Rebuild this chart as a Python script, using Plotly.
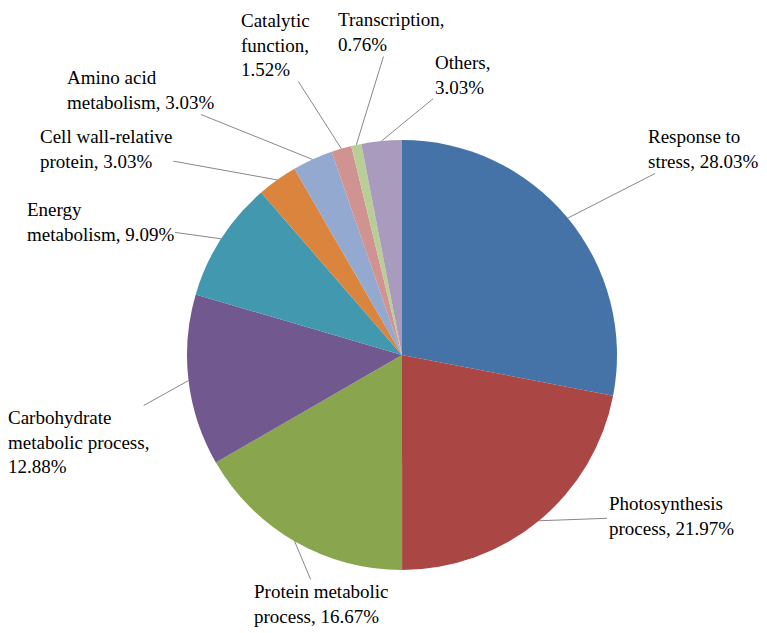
import math
import plotly.graph_objects as go

# categories and shares (%), clockwise from 12 o'clock
categories = ["Response to<br>stress", "Photosynthesis<br>process", "Protein metabolic<br>process",
              "Carbohydrate<br>metabolic process,<br>", "Energy<br>metabolism",
              "Cell wall-relative<br>protein", "Amino acid<br>metabolism",
              "Catalytic<br>function,<br>", "Transcription,<br>", "Others,<br>"]
values = [28.03, 21.97, 16.67, 12.88, 9.09, 3.03, 3.03, 1.52, 0.76, 3.03]

colors = ["#4572A7", "#AA4643", "#89A54E", "#71588F", "#4198AF",
          "#DB843D", "#93A9CF", "#D19392", "#B9CD96", "#A99BBD"]

W, H = 767, 633
OFF = 8  # page body margin
cx, cy, r = 402 - OFF, 355 - OFF, 215  # pie centre / radius in pixels

# where each label's text box is centred (pixels from top-left of the window)
label_pos = [(703, 149), (671, 516), (321, 604), (78, 442), (100, 222),
             (106, 149), (140, 90), (275, 45), (391, 32), (462, 75)]

FONT = "Liberation Serif, Times New Roman, serif"

fig = go.Figure()
fig.add_trace(go.Pie(
    labels=[c.replace("<br>", " ") for c in categories],
    values=values,
    sort=False,
    direction="clockwise",
    rotation=0,
    textinfo="none",
    marker=dict(colors=colors, line=dict(width=0)),
    domain=dict(x=[(cx - r) / W, (cx + r) / W], y=[1 - (cy + r) / H, 1 - (cy - r) / H]),
    showlegend=False,
))

total = sum(values)
start = 0.0
annotations = []
for cat, v, (lx, ly) in zip(categories, values, label_pos):
    mid = (start + v / 2) / total * 2 * math.pi
    start += v
    tx = cx + r * math.sin(mid)
    ty = cy - r * math.cos(mid)
    sep = "" if cat.endswith("<br>") else ", "
    annotations.append(dict(
        x=tx / W, y=1 - ty / H, xref="paper", yref="paper",
        text=f"{cat}{sep}{v:.2f}%", align="left",
        showarrow=True, arrowhead=0, arrowwidth=1, arrowcolor="#888888",
        ax=lx - OFF - tx, ay=ly - OFF - ty, standoff=0,
        font=dict(family=FONT, size=19, color="black"),
    ))

fig.update_layout(
    width=W, height=H,
    margin=dict(l=0, r=0, t=0, b=0),
    paper_bgcolor="white",
    font=dict(family=FONT),
    annotations=annotations,
)

fig.write_html("out.html")
